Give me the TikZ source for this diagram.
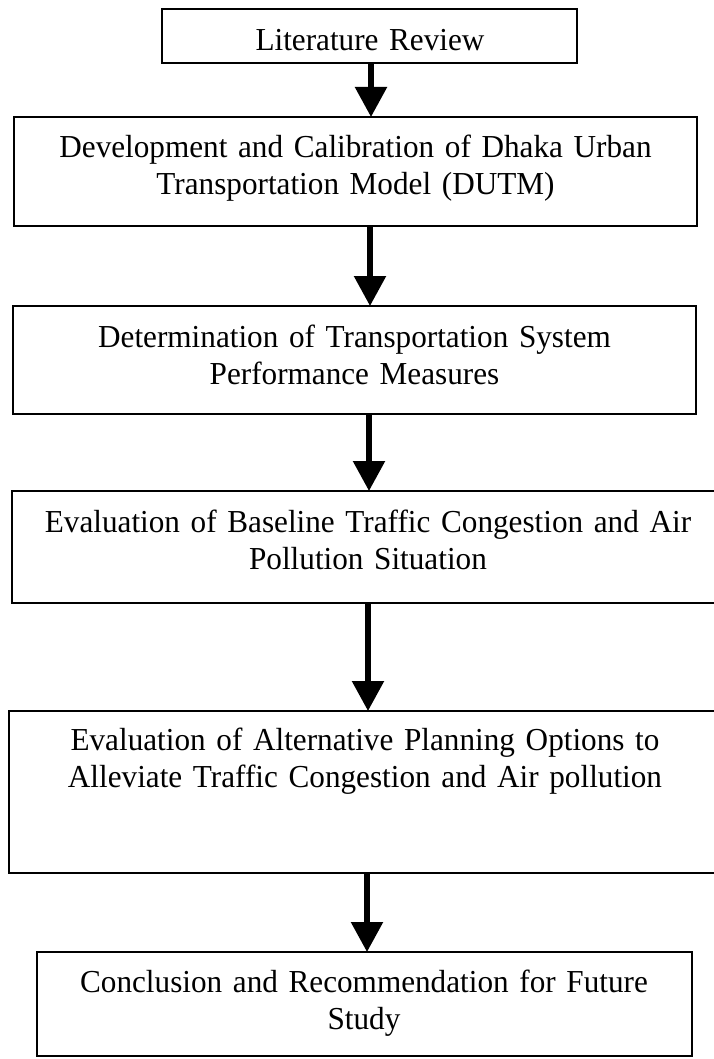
\documentclass[tikz,border=0pt]{standalone}
\usepackage{fontspec}
\setmainfont[FakeStretch=0.975]{Liberation Serif}
\usetikzlibrary{arrows.meta}
\begin{document}
\begin{tikzpicture}[x=1pt,y=-1pt,
  box/.style={draw, line width=2.7pt, rectangle, anchor=north west, inner sep=0pt, outer sep=0pt},
  txt/.style={anchor=base, text width=710pt, align=center, inner sep=0pt, font=\fontsize{32}{37}\selectfont},
  arr/.style={line width=5.5pt, -{Triangle[length=30pt,width=31pt]}}]
\useasboundingbox (0,0) rectangle (714,1059);
\fill[white] (0,0) rectangle (714,1059);
\clip (0,0) rectangle (714,1059);
% boxes
\node[box, minimum width=415pt, minimum height=54pt]  (b1) at (162,9)   {};
\node[box, minimum width=683pt, minimum height=109pt] (b2) at (14,117)  {};
\node[box, minimum width=683pt, minimum height=108pt] (b3) at (13,306)  {};
\node[box, minimum width=714pt, minimum height=112pt] (b4) at (12,491)  {};
\node[box, minimum width=713pt, minimum height=162pt] (b5) at (9,711)   {};
\node[box, minimum width=655pt, minimum height=104pt] (b6) at (37,952)  {};
% texts
\node[txt] (t1) at (370,51)    {Literature Review};
\node[txt] (t2) at (355.5,158) {Development and Calibration of Dhaka Urban\\Transportation Model (DUTM)};
\node[txt] (t3) at (354.5,347) {Determination of Transportation System\\Performance Measures};
\node[txt] (t4) at (368,532)   {Evaluation of Baseline Traffic Congestion and Air\\Pollution Situation};
\node[txt] (t5) at (365,750)   {Evaluation of Alternative Planning Options to\\Alleviate Traffic Congestion and Air pollution};
\node[txt] (t6) at (364,992)   {Conclusion and Recommendation for Future\\Study};
% arrow columns
\coordinate (c1) at (371,0);
\coordinate (c2) at (370,0);
\coordinate (c3) at (369,0);
\coordinate (c4) at (368,0);
\coordinate (c5) at (367,0);
\draw[arr] (b1.south -| c1) -- (b2.north -| c1);
\draw[arr] (b2.south -| c2) -- (b3.north -| c2);
\draw[arr] (b3.south -| c3) -- (b4.north -| c3);
\draw[arr] (b4.south -| c4) -- (b5.north -| c4);
\draw[arr] (b5.south -| c5) -- (b6.north -| c5);
\end{tikzpicture}
\end{document}
